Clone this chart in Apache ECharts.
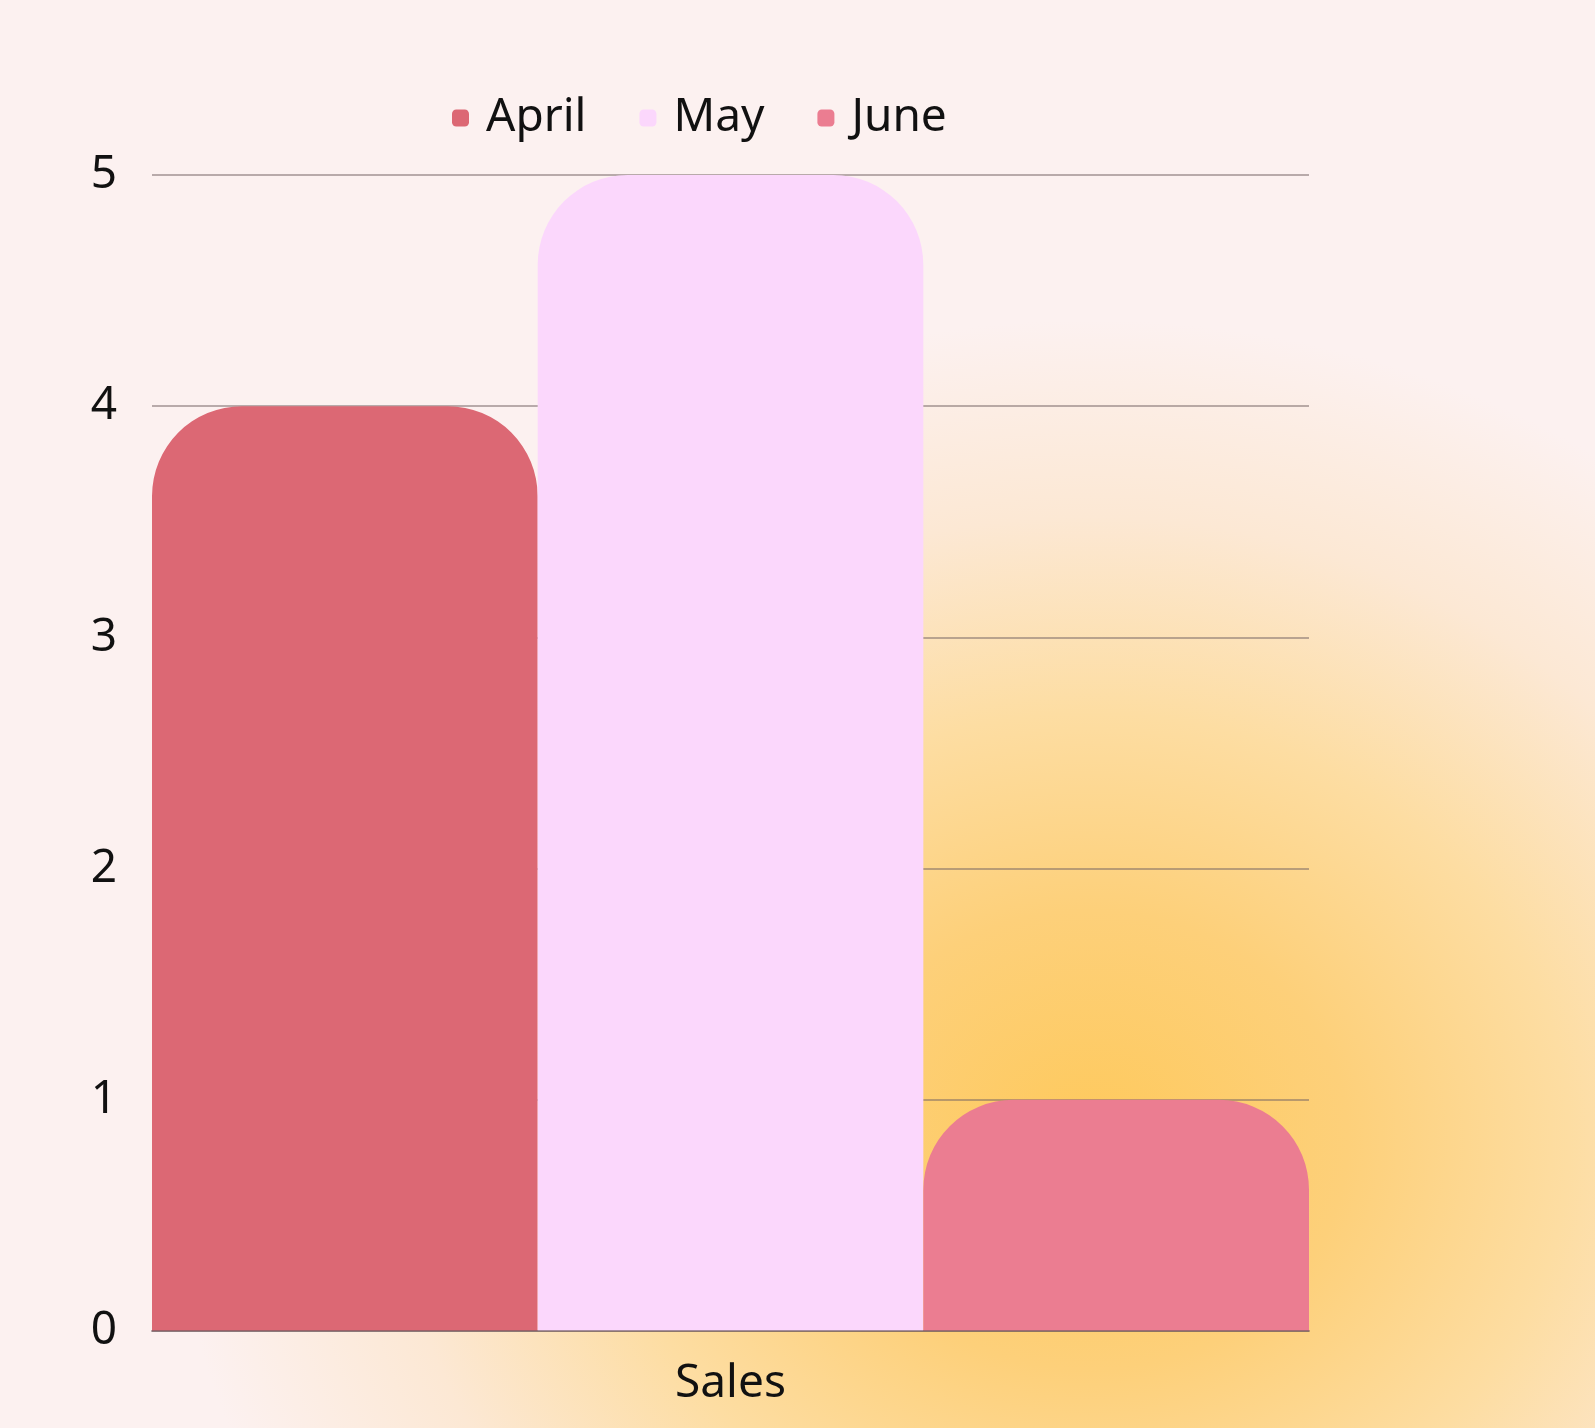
<!DOCTYPE html>
<html>
<head>
<meta charset="utf-8">
<title>Sales by month</title>
<script src="https://cdn.jsdelivr.net/npm/echarts@6/dist/echarts.min.js"></script>
<style>
  html, body { margin: 0; padding: 0; }
  body {
    width: 1595px; height: 1428px; overflow: hidden;
    background-color: #fcf1f0;
    background-image: radial-gradient(ellipse 920px 820px at 1090px 1140px,
      #fec95c 0%, #fdd07a 28%, #fddda2 52%, #fce8d4 76%, #fcf1f0 100%);
  }
  #chart { width: 1595px; height: 1428px; }
</style>
</head>
<body>
<div id="chart"></div>
<script>
// Category on the x axis
const categories = ['Sales'];
// One series per month
const seriesNames = ['April', 'May', 'June'];
const aprilValues = [4];
const mayValues = [5];
const juneValues = [1];
// Value axis range
const yMin = 0;
const yMax = 5;
const yStep = 1;

const seriesColors = ['#dc6874', '#fbd7fc', '#eb7d91'];
const seriesValues = [aprilValues, mayValues, juneValues];
const fontFamily = '"Noto Sans", "Open Sans", sans-serif';
const gridLineColor = 'rgba(115,100,100,0.5)';

const chart = echarts.init(document.getElementById('chart'), null, { renderer: 'canvas' });

chart.setOption({
  backgroundColor: 'transparent',
  animation: false,
  textStyle: { fontFamily: fontFamily },
  legend: {
    left: 452,
    top: 95,
    padding: 0,
    itemWidth: 17,
    itemHeight: 17,
    itemGap: 53,
    icon: 'roundRect',
    textStyle: {
      fontFamily: fontFamily,
      fontSize: 46,
      color: '#111111',
      padding: [0, 0, 0, 12]
    },
    data: seriesNames
  },
  grid: {
    left: 152,
    right: 286,
    top: 175,
    bottom: 97,
    containLabel: false
  },
  xAxis: {
    type: 'category',
    data: categories,
    z: 10,
    axisLine: { show: true, lineStyle: { color: 'rgba(110,90,95,0.6)', width: 2 } },
    axisTick: { show: false },
    axisLabel: {
      margin: 30,
      fontFamily: fontFamily,
      fontSize: 46,
      color: '#111111'
    },
    splitLine: { show: false }
  },
  yAxis: {
    type: 'value',
    min: yMin,
    max: yMax,
    interval: yStep,
    axisLine: { show: false },
    axisTick: { show: false },
    axisLabel: {
      margin: 35,
      fontFamily: fontFamily,
      fontSize: 46,
      color: '#111111'
    },
    splitLine: { show: true, lineStyle: { color: gridLineColor, width: 2 } }
  },
  series: seriesNames.map(function (name, i) {
    return {
      name: name,
      type: 'bar',
      data: seriesValues[i],
      barGap: '0%',
      barCategoryGap: '0%',
      itemStyle: {
        color: seriesColors[i],
        borderRadius: [90, 90, 0, 0]
      }
    };
  })
});
</script>
</body>
</html>
